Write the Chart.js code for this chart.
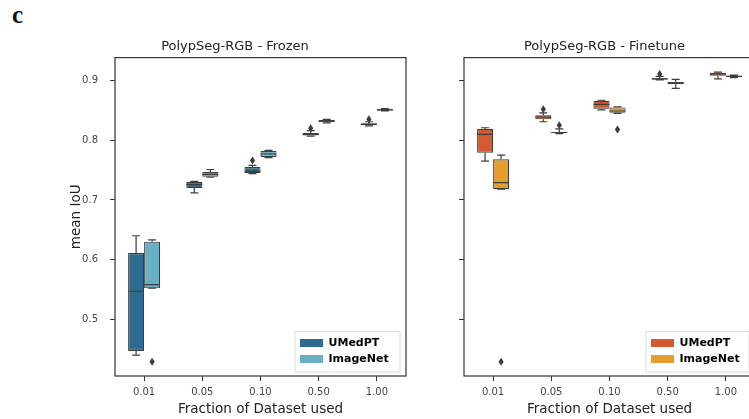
<!DOCTYPE html>
<html>
<head>
<meta charset="utf-8">
<script src="https://cdn.jsdelivr.net/npm/chart.js@4.4.1/dist/chart.umd.min.js"></script>
<style>
  html, body { margin: 0; padding: 0; background: #fff; overflow: hidden; }
  #wrap { position: relative; width: 749px; height: 419px; overflow: hidden; }
  #panel { position: absolute; left: 12px; top: 3px; font: bold 25px "Liberation Serif", "DejaVu Serif", serif; line-height: 24px; color: #111; }
  #frozen { position: absolute; left: 0; top: 0; }
  #finetune { position: absolute; left: 420px; top: 0; }
</style>
</head>
<body>
<div id="wrap">
  <div id="panel">c</div>
  <canvas id="frozen" width="420" height="419"></canvas>
  <canvas id="finetune" width="345" height="419"></canvas>
</div>
<script>
// data: [whisker low, q1, median, q3, whisker high]
const fractions = ['0.01', '0.05', '0.10', '0.50', '1.00'];
const yTicks = [0.5, 0.6, 0.7, 0.8, 0.9];

const frozenUMedPT = [
  [0.440, 0.447, 0.547, 0.611, 0.640],
  [0.712, 0.720, 0.726, 0.730, 0.731],
  [0.744, 0.745, 0.748, 0.755, 0.758],
  [0.807, 0.808, 0.810, 0.812, 0.816],
  [0.824, 0.825, 0.827, 0.828, 0.831],
];
const frozenUMedPTOutliers = [[], [], [0.766], [0.820], [0.835]];

const frozenImageNet = [
  [0.552, 0.552, 0.558, 0.630, 0.633],
  [0.738, 0.739, 0.743, 0.747, 0.751],
  [0.771, 0.772, 0.777, 0.782, 0.783],
  [0.829, 0.830, 0.832, 0.834, 0.835],
  [0.849, 0.850, 0.851, 0.852, 0.853],
];
const frozenImageNetOutliers = [[0.429], [], [], [], []];

const finetuneUMedPT = [
  [0.765, 0.779, 0.810, 0.819, 0.821],
  [0.831, 0.835, 0.839, 0.842, 0.846],
  [0.851, 0.853, 0.860, 0.866, 0.867],
  [0.901, 0.902, 0.903, 0.904, 0.907],
  [0.903, 0.908, 0.911, 0.913, 0.914],
];
const finetuneUMedPTOutliers = [[], [0.852], [], [0.911], []];

const finetuneImageNet = [
  [0.718, 0.718, 0.729, 0.768, 0.775],
  [0.811, 0.812, 0.813, 0.814, 0.819],
  [0.845, 0.846, 0.849, 0.855, 0.856],
  [0.887, 0.894, 0.896, 0.898, 0.902],
  [0.905, 0.906, 0.907, 0.908, 0.909],
];
const finetuneImageNetOutliers = [[0.429], [0.825], [0.818], [], []];

const FONT = '"DejaVu Sans", sans-serif';
const EDGE = '#3d3d3d';

// draws median, whiskers, caps and outliers on top of the floating bars
const boxWhiskerPlugin = {
  id: 'boxWhisker',
  afterDatasetsDraw(chart) {
    const ctx = chart.ctx;
    const y = chart.scales.y;
    ctx.save();
    chart.data.datasets.forEach((ds, i) => {
      const meta = chart.getDatasetMeta(i);
      meta.data.forEach((bar, j) => {
        const s = ds.stats[j];
        const { x, width } = bar.getProps(['x', 'width'], true);
        const half = width / 2;
        const cap = width / 4;
        ctx.strokeStyle = ds.borderColor;
        ctx.lineWidth = 1.2;
        ctx.beginPath();
        // whiskers
        ctx.moveTo(x, y.getPixelForValue(s[3]));
        ctx.lineTo(x, y.getPixelForValue(s[4]));
        ctx.moveTo(x, y.getPixelForValue(s[1]));
        ctx.lineTo(x, y.getPixelForValue(s[0]));
        // caps
        ctx.moveTo(x - cap, y.getPixelForValue(s[4]));
        ctx.lineTo(x + cap, y.getPixelForValue(s[4]));
        ctx.moveTo(x - cap, y.getPixelForValue(s[0]));
        ctx.lineTo(x + cap, y.getPixelForValue(s[0]));
        // median
        ctx.moveTo(x - half, y.getPixelForValue(s[2]));
        ctx.lineTo(x + half, y.getPixelForValue(s[2]));
        ctx.stroke();
        // outliers as diamonds
        ctx.fillStyle = ds.borderColor;
        ds.outliers[j].forEach(v => {
          const py = y.getPixelForValue(v);
          ctx.beginPath();
          ctx.moveTo(x, py - 4);
          ctx.lineTo(x + 2.6, py);
          ctx.lineTo(x, py + 4);
          ctx.lineTo(x - 2.6, py);
          ctx.closePath();
          ctx.fill();
        });
      });
    });
    ctx.restore();
  },
  afterDraw(chart) {
    const ca = chart.chartArea;
    const ctx = chart.ctx;
    ctx.save();
    ctx.strokeStyle = '#333';
    ctx.lineWidth = 1.2;
    ctx.strokeRect(ca.left, ca.top, ca.right - ca.left, ca.bottom - ca.top);
    ctx.restore();
  }
};

// legend in the lower right corner of the plot, with a light frame
const legendPlacePlugin = {
  id: 'legendPlace',
  afterLayout(chart) {
    const lg = chart.legend;
    const ca = chart.chartArea;
    lg.left = ca.right - chart.options.plugins.legendPlace.fromRight;
    lg.right = ca.right - 4;
    lg.bottom = ca.bottom - 6.5;
  },
  beforeDraw(chart) {
    const lg = chart.legend;
    const boxes = lg.legendHitBoxes;
    if (!boxes || !boxes.length) return;
    const ca = chart.chartArea;
    const ctx = chart.ctx;
    const left = boxes[0].left - 5;
    const top = boxes[0].top - 6;
    ctx.save();
    ctx.fillStyle = 'rgba(255,255,255,0.85)';
    ctx.strokeStyle = '#dddddd';
    ctx.lineWidth = 1;
    ctx.fillRect(left, top, ca.right - 6 - left, ca.bottom - 4 - top);
    ctx.strokeRect(left, top, ca.right - 6 - left, ca.bottom - 4 - top);
    ctx.restore();
  }
};

function boxDataset(label, stats, outliers, color) {
  return {
    label: label,
    data: stats.map(s => [s[1], s[3]]),
    stats: stats,
    outliers: outliers,
    backgroundColor: color,
    borderColor: EDGE,
    borderWidth: 1.1,
    borderSkipped: false,
    categoryPercentage: 0.55,
    barPercentage: 1.0,
  };
}

function makeChart(id, title, umed, umedOut, imnet, imnetOut, colors, opts) {
  return new Chart(document.getElementById(id).getContext('2d'), {
    type: 'bar',
    data: {
      labels: fractions,
      datasets: [
        boxDataset('UMedPT', umed, umedOut, colors[0]),
        boxDataset('ImageNet', imnet, imnetOut, colors[1]),
      ],
    },
    options: {
      responsive: false,
      animation: false,
      devicePixelRatio: 1,
      layout: { padding: opts.padding },
      scales: {
        x: {
          grid: { display: true, drawOnChartArea: false, offset: false, tickLength: 5, tickColor: '#333', tickWidth: 1 },
          border: { display: false },
          ticks: { color: '#444', font: { family: FONT, size: 10 }, padding: 5, maxRotation: 0 },
          title: { display: true, text: 'Fraction of Dataset used', color: '#222', font: { family: FONT, size: 13.5 }, padding: { top: 2, bottom: 1 } },
          afterFit(scale) { scale.height = 43; },
        },
        y: {
          min: 0.405,
          max: 0.9385,
          afterBuildTicks(scale) { scale.ticks = yTicks.map(v => ({ value: v })); },
          grid: { display: true, drawOnChartArea: false, tickLength: 5, tickColor: '#333', tickWidth: 1 },
          border: { display: false },
          ticks: {
            color: '#444',
            font: { family: FONT, size: 10 },
            padding: 12,
            callback: v => opts.showY ? v.toFixed(1) : '',
          },
          title: { display: opts.showY, text: 'mean IoU', color: '#222', font: { family: FONT, size: 13.5 }, padding: { top: 4, bottom: 4 } },
          afterFit(scale) { scale.width = opts.yWidth; },
        },
      },
      plugins: {
        title: {
          display: true,
          text: title,
          color: '#222',
          font: { family: FONT, size: 13, weight: 'normal' },
          padding: { top: 39, bottom: 3 },
        },
        legend: {
          position: 'chartArea',
          align: 'end',
          labels: {
            boxWidth: 23,
            boxHeight: 8,
            padding: 5,
            color: '#222',
            font: { family: FONT, size: 11, weight: 'bold' },
            generateLabels(chart) {
              return chart.data.datasets.map((ds, i) => ({
                text: ds.label,
                fillStyle: ds.backgroundColor,
                strokeStyle: ds.backgroundColor,
                lineWidth: 0,
                datasetIndex: i,
              }));
            },
          },
        },
        legendPlace: { fromRight: opts.legendFromRight },
        tooltip: { enabled: false },
      },
    },
    plugins: [boxWhiskerPlugin, legendPlacePlugin],
  });
}

makeChart('frozen', 'PolypSeg-RGB - Frozen',
  frozenUMedPT, frozenUMedPTOutliers, frozenImageNet, frozenImageNetOutliers,
  ['#2d6b90', '#69b0c4'],
  { padding: { left: 64, top: 0, right: 14, bottom: 0 }, yWidth: 51, showY: true, legendFromRight: 111 });

makeChart('finetune', 'PolypSeg-RGB - Finetune',
  finetuneUMedPT, finetuneUMedPTOutliers, finetuneImageNet, finetuneImageNetOutliers,
  ['#d65a30', '#e49d2e'],
  { padding: { left: 34, top: 0, right: 10, bottom: 0 }, yWidth: 10, showY: false, legendFromRight: 109 });
</script>
</body>
</html>
